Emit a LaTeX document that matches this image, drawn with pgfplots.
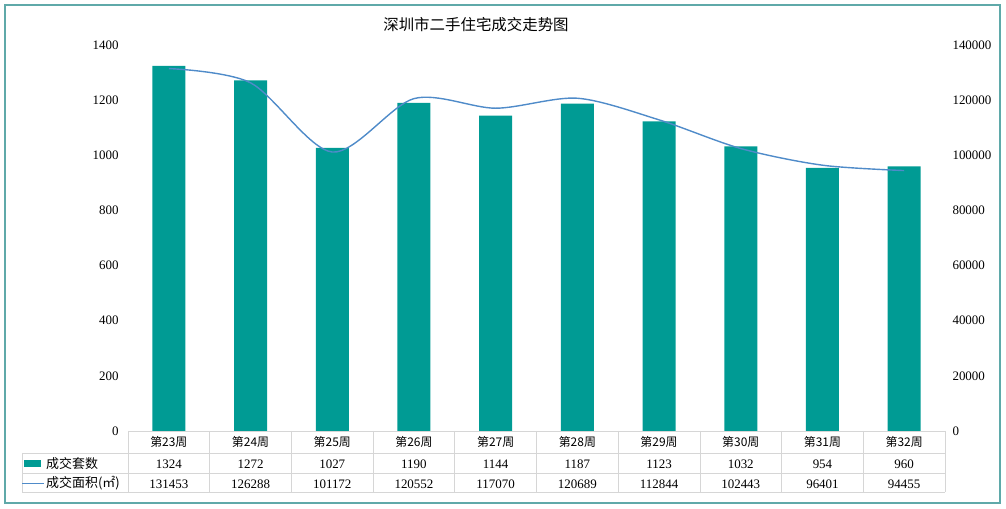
\documentclass[border=0pt]{standalone}
\usepackage{pgfplots}
\pgfplotsset{compat=1.18}
\usepackage{pgfplotstable}
\usepackage{fontspec}
\setmainfont{Liberation Serif}
\newfontfamily\cjk{Noto Sans CJK SC}
\definecolor{barc}{HTML}{009B94}
\definecolor{linec}{HTML}{4F8BC9}
\definecolor{framec}{HTML}{5FA9A9}
\definecolor{gridc}{HTML}{D6D6D6}

\pgfplotstableread{
x n area
0 1324 131453
1 1272 126288
2 1027 101172
3 1190 120552
4 1144 117070
5 1187 120689
6 1123 112844
7 1032 102443
8 954 96401
9 960 94455
}\data

\begin{document}
\begin{tikzpicture}
\begin{scope}[x=1bp,y=1bp]
\path[use as bounding box] (0,0) rectangle (1006,509);
\draw[framec, line width=1.2bp] (5,6) rectangle (1000,504);
\node[font=\cjk\fontsize{15.5}{16}\selectfont] at (476,484) {深圳市二手住宅成交走势图};
\end{scope}

\begin{axis}[
  at={(128bp,78bp)}, anchor=south west,
  scale only axis, width=817bp, height=386bp,
  xmin=-0.5, xmax=9.5, ymin=0, ymax=1400,
  ytick={0,200,...,1400},
  axis x line*=bottom, axis y line*=left,
  y axis line style={draw=none},
  x axis line style={draw=gridc, -},
  major tick length=0pt,
  xtick={0,...,9},
  xticklabels={第23周,第24周,第25周,第26周,第27周,第28周,第29周,第30周,第31周,第32周},
  xticklabel style={font=\cjk\fontsize{12}{12}\selectfont, anchor=center, yshift=-11bp},
  /pgf/number format/assume math mode=true,
  /pgf/number format/1000 sep={},
  yticklabel style={font=\fontsize{13}{13}\selectfont, xshift=-6bp},
  clip=false,
]
\addplot[ybar, bar width=33bp, bar shift=0pt, fill=barc, draw=none] table[x=x,y=n]{\data};
\addplot[draw=none, mark=none, nodes near coords, point meta=explicit symbolic,
  every node near coord/.append style={anchor=center, font=\fontsize{13}{13}\selectfont, text=black}]
  table[x=x, y expr=-120, meta=n]{\data};
\addplot[draw=none, mark=none, nodes near coords, point meta=explicit symbolic,
  every node near coord/.append style={anchor=center, font=\fontsize{13}{13}\selectfont, text=black}]
  table[x=x, y expr=-192, meta=area]{\data};
\end{axis}

\begin{axis}[
  at={(128bp,78bp)}, anchor=south west,
  scale only axis, width=817bp, height=386bp,
  xmin=-0.5, xmax=9.5, ymin=0, ymax=140000,
  ytick={0,20000,...,140000},
  scaled y ticks=false,
  axis y line*=right, axis x line=none,
  y axis line style={draw=none},
  major tick length=0pt,
  /pgf/number format/assume math mode=true,
  /pgf/number format/fixed,
  /pgf/number format/precision=0,
  /pgf/number format/1000 sep={},
  yticklabel style={font=\fontsize{13}{13}\selectfont, xshift=4bp},
  clip=false,
]
\addplot[linec, smooth, line width=1.4bp] table[x=x,y=area]{\data};
\end{axis}

\begin{scope}[x=1bp,y=1bp]
\draw[gridc, line width=0.8bp] (128,78) -- (945,78);
\foreach \yy in {56,36,17} \draw[gridc, line width=0.8bp] (22,\yy) -- (945,\yy);
\draw[gridc, line width=0.8bp] (22,56) -- (22,17);
\foreach \k in {0,...,10} \draw[gridc, line width=0.8bp] (128+81.7*\k,78) -- (128+81.7*\k,17);
\fill[barc] (24,42) rectangle (41,49);
\node[anchor=west, font=\cjk\fontsize{13}{13}\selectfont, inner sep=0] at (46,45.5) {成交套数};
\draw[linec, line width=1.6bp] (22,25.5) -- (44,25.5);
\node[anchor=west, font=\cjk\fontsize{13}{13}\selectfont, inner sep=0] at (46,25.5) {成交面积(㎡)};
\end{scope}
\end{tikzpicture}
\end{document}
